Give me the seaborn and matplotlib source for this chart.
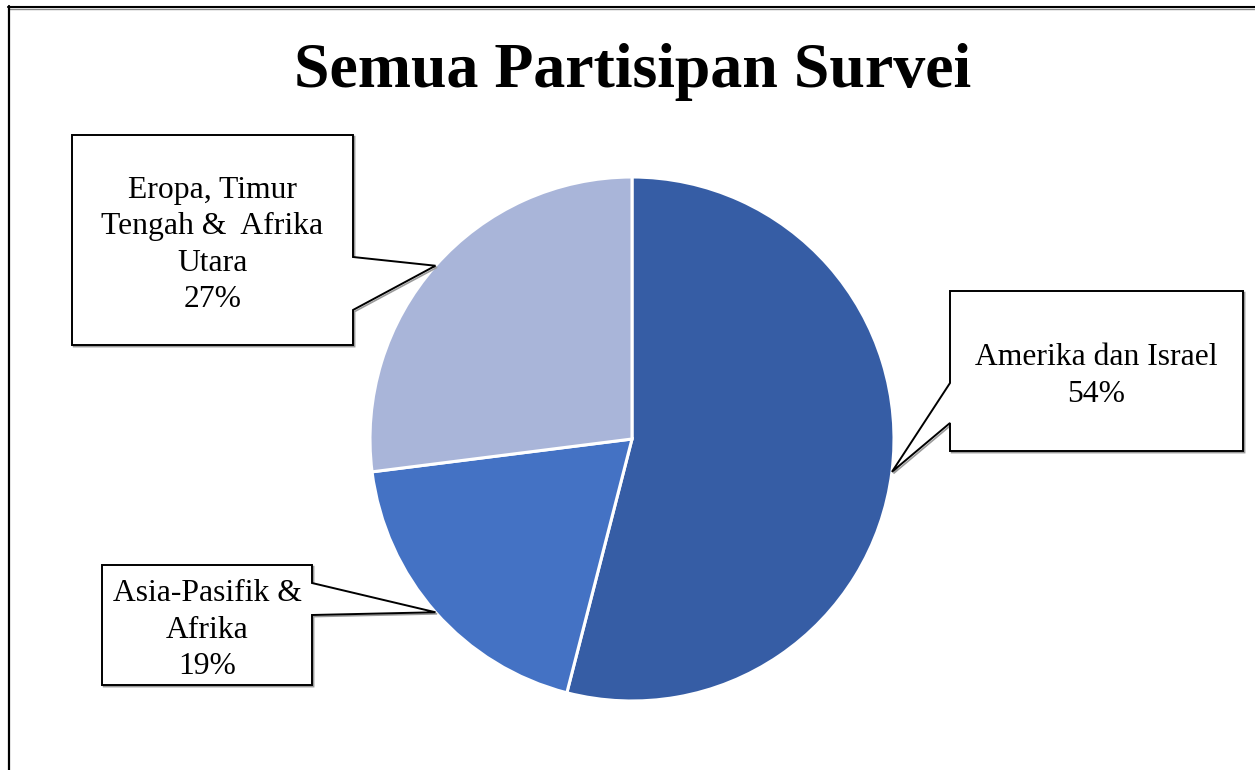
import matplotlib
matplotlib.use("Agg")
import matplotlib.pyplot as plt
from matplotlib.patches import Polygon
from matplotlib.lines import Line2D
import numpy as np
import seaborn as sns

# Survey participants by region
regions = ["Amerika dan Israel", "Asia-Pasifik &\nAfrika", "Eropa, Timur\nTengah &  Afrika\nUtara"]
shares = [54, 19, 27]
slice_colors = ["#365DA5", "#4472C4", "#A9B5D9"]
title = "Semua Partisipan Survei"

sns.set_theme(style="white")
plt.rcParams["font.family"] = ["Liberation Serif", "DejaVu Serif"]

W, H = 1255, 770
fig = plt.figure(figsize=(W / 100, H / 100), dpi=100)
fig.patch.set_facecolor("white")


def fx(x):
    return x / W


def fy(y):
    return 1 - y / H


# pie in a square axes box (pixel layout measured from the top-left corner)
cx, cy, r = 632, 439, 262
ax = fig.add_axes([fx(cx - r), (H - cy - r) / H, 2 * r / W, 2 * r / H])
palette = sns.color_palette(slice_colors)
wedges, _ = ax.pie(shares, colors=palette, startangle=90, counterclock=False,
                   wedgeprops=dict(edgecolor="white", linewidth=2.2))
ax.set_xlim(-1, 1)
ax.set_ylim(-1, 1)
ax.set_aspect("equal")
ax.axis("off")
ax.apply_aspect()

# callout boxes: (left, top, right, bottom), side holding the pointer, pointer base span
callouts = [
    ((950, 291, 1243, 451), "left", (383, 423)),
    ((102, 565, 312, 685), "right", (583, 615)),
    ((72, 135, 353, 345), "right", (257, 310)),
]

for wedge, label, value, (box, side, notch) in zip(wedges, regions, shares, callouts):
    mid = np.deg2rad((wedge.theta1 + wedge.theta2) / 2)
    tx, ty = ax.transData.transform((np.cos(mid), np.sin(mid)))
    tip = (tx, H - ty)
    L, T, R, B = box
    n1, n2 = notch
    if side == "right":
        pts = [(L, T), (R, T), (R, n1), tip, (R, n2), (R, B), (L, B)]
    else:
        pts = [(L, T), (R, T), (R, B), (L, B), (L, n2), tip, (L, n1)]
    shadow = [(fx(x + 1.6), fy(y + 1.6)) for x, y in pts]
    fig.add_artist(Polygon(shadow, closed=True, transform=fig.transFigure,
                           facecolor="none", edgecolor="#9a9a9a", linewidth=1.2, zorder=4))
    fig.add_artist(Polygon([(fx(x), fy(y)) for x, y in pts], closed=True,
                           transform=fig.transFigure, facecolor="white",
                           edgecolor="black", linewidth=1.4, zorder=5))
    fig.text(fx((L + R) / 2), fy((T + B) / 2 + 5), f"{label}\n{value}%",
             ha="center", va="center", fontsize=22.8, linespacing=1.32,
             color="black", zorder=6)

fig.text(fx(633), fy(87), title, ha="center", va="baseline",
         fontsize=46, fontweight="bold", color="black")

# outer frame (top and left edges)
fig.add_artist(Line2D([fx(9), 1], [fy(8.5), fy(8.5)], color="#8a8a8a", linewidth=1.0,
                      transform=fig.transFigure))
fig.add_artist(Line2D([fx(8), 1], [fy(6.5), fy(6.5)], color="black", linewidth=1.5,
                      transform=fig.transFigure))
fig.add_artist(Line2D([fx(9), fx(9)], [fy(6), 0], color="black", linewidth=1.6,
                      transform=fig.transFigure))

fig.savefig("out.png", dpi=100, facecolor="white")
